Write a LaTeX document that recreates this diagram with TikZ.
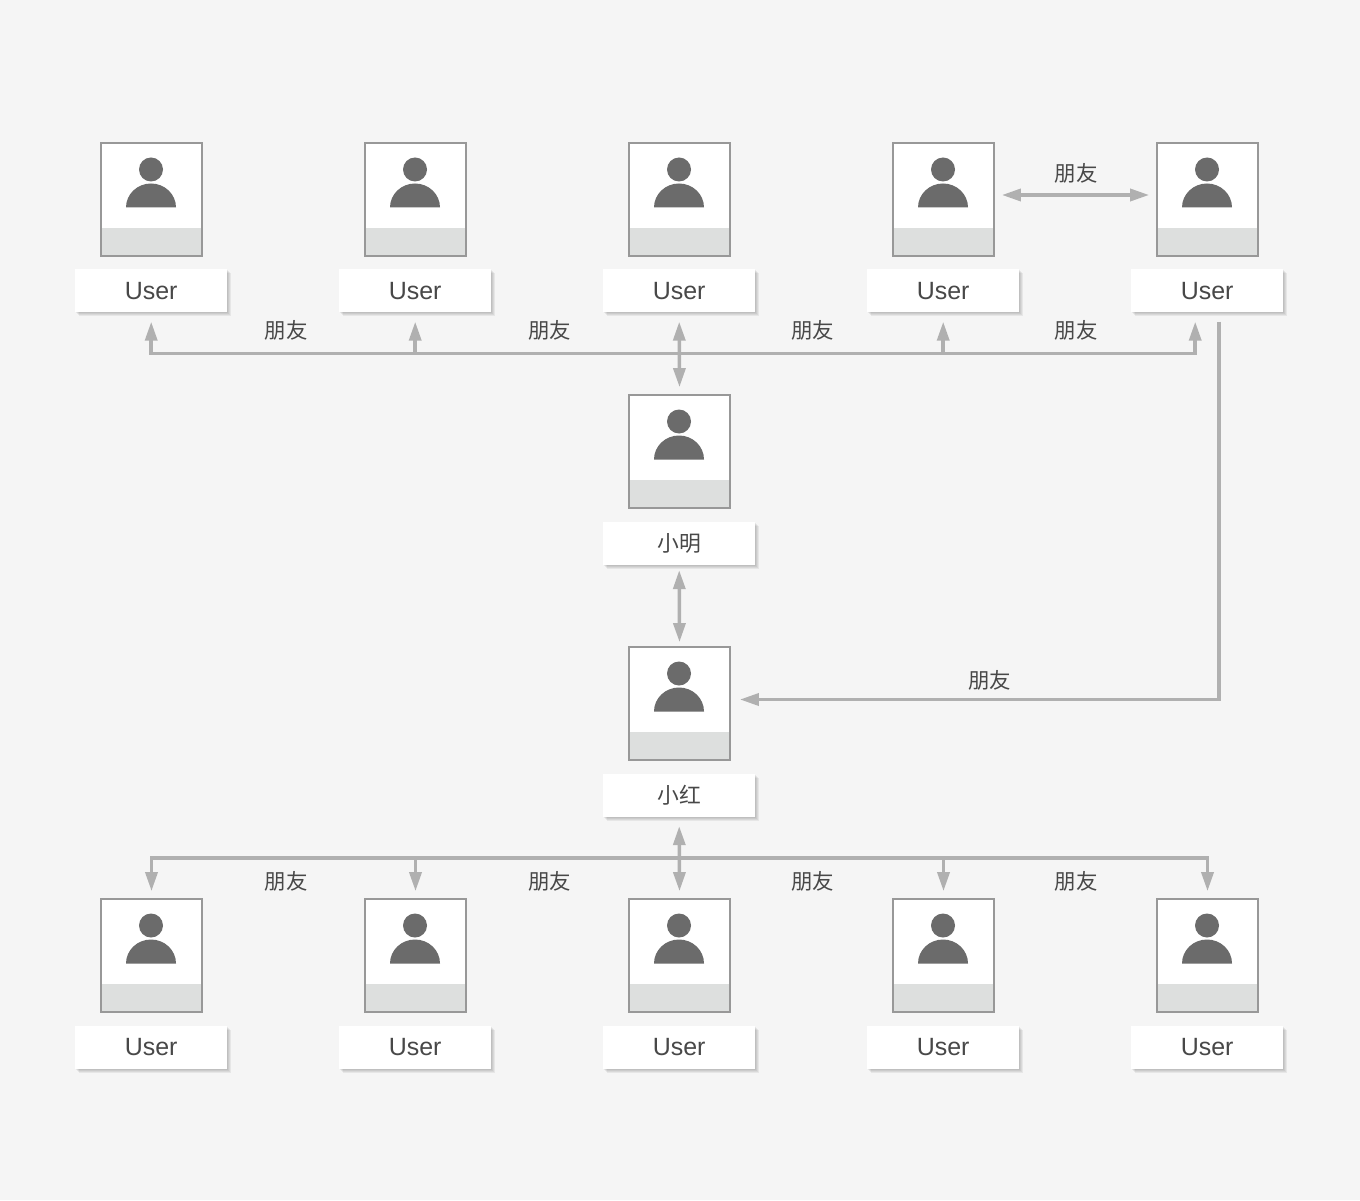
\documentclass[tikz,border=0pt]{standalone}
\usepackage{xcolor}
\usepackage{fontspec}
\usetikzlibrary{arrows.meta,shadows}
\setmainfont{Liberation Sans}
\newfontfamily\cjk{Noto Sans CJK SC}
\definecolor{BOPage}{HTML}{F5F5F5}
\definecolor{BOBand}{HTML}{DDDFDE}
\definecolor{BOFrame}{HTML}{989898}
\definecolor{BOFigure}{HTML}{6B6B6B}
\definecolor{BOLink}{HTML}{B0B0B0}
\definecolor{BOText}{HTML}{484848}
\tikzset{
  softshadow/.style={general shadow={shadow xshift=#1,shadow yshift=-#1,opacity=0.06,fill=black}},
  cardbox/.style={rectangle,draw=BOFrame,fill=white,line width=0.018cm,minimum width=1.01cm,minimum height=1.13cm,inner sep=0pt,
    path picture={\fill[BOBand] ([yshift=0.28cm]path picture bounding box.south west) rectangle (path picture bounding box.south east);}},
  namebox/.style={rectangle,fill=white,minimum width=1.525cm,minimum height=0.43cm,inner sep=0pt,text=BOText,font=\fontsize{7.1pt}{8pt}\selectfont,
    softshadow=0.04cm,softshadow=0.03cm,softshadow=0.02cm,softshadow=0.01cm},
  friendtext/.style={text=BOText,inner sep=0pt,font=\fontsize{6.1pt}{7pt}\selectfont\cjk},
  linkline/.style={draw=BOLink,line width=0.035cm},
  linkarrow/.style={linkline,-{Triangle[length=0.19cm,width=0.12cm]}},
  linkboth/.style={linkline,{Triangle[length=0.19cm,width=0.12cm]}-{Triangle[length=0.19cm,width=0.12cm]}}
}
\newcommand{\UserCard}[5]{%
  \node[cardbox] (card#1) at (#2,#3) {};
  \fill[BOFigure] (#2-0.005,#3+0.30) circle (0.12);
  \fill[BOFigure] (#2-0.255,#3-0.08) arc[start angle=180,end angle=0,x radius=0.25,y radius=0.24] -- cycle;
  \node[namebox] (name#1) at (#2-0.003,#3-0.915) {\raisebox{-0.015cm}{#4#5}};
}
\begin{document}
\begin{tikzpicture}[x=1cm,y=1cm]
\path[use as bounding box,fill=BOPage] (0,0) rectangle (13.60,12.00);
% top row
\UserCard{A}{1.515}{10.005}{}{User}
\UserCard{B}{4.155}{10.005}{}{User}
\UserCard{C}{6.795}{10.005}{}{User}
\UserCard{D}{9.435}{10.005}{}{User}
\UserCard{E}{12.075}{10.005}{}{User}
% middle
\UserCard{Ming}{6.795}{7.485}{\cjk\fontsize{6.2pt}{7pt}\selectfont}{小明}
\UserCard{Hong}{6.795}{4.965}{\cjk\fontsize{6.2pt}{7pt}\selectfont}{小红}
% bottom row
\UserCard{F}{1.515}{2.445}{}{User}
\UserCard{G}{4.155}{2.445}{}{User}
\UserCard{H}{6.795}{2.445}{}{User}
\UserCard{I}{9.435}{2.445}{}{User}
\UserCard{J}{12.075}{2.445}{}{User}
% top row links
\coordinate (topbus) at (6.79,8.465);
\coordinate (endA) at ([yshift=-0.085cm]nameA.south);
\coordinate (endB) at ([yshift=-0.085cm]nameB.south);
\coordinate (endC) at ([yshift=-0.085cm]nameC.south);
\coordinate (endD) at ([yshift=-0.085cm]nameD.south);
\coordinate (endE) at ([xshift=-0.12cm,yshift=-0.085cm]nameE.south);
\draw[linkarrow] (endA |- topbus) -- (endA);
\draw[linkarrow] (endB |- topbus) -- (endB);
\draw[linkarrow] (endD |- topbus) -- (endD);
\draw[linkarrow] (endE |- topbus) -- (endE);
\draw[linkline,line cap=rect] (endA |- topbus) -- (endE |- topbus);
\draw[linkboth] (endC) -- ([yshift=0.07cm]cardMing.north);
\draw[linkboth] ([xshift=0.07cm]cardD.east |- 0,10.05) -- ([xshift=-0.07cm]cardE.west |- 0,10.05);
\node[friendtext] (friendDE) at (10.76,10.27) {朋友};
\node[friendtext] (friendAB) at (2.86,8.70) {朋友};
\node[friendtext] (friendBC) at (5.495,8.70) {朋友};
\node[friendtext] (friendCD) at (8.125,8.70) {朋友};
\node[friendtext] (friendDE2) at (10.76,8.70) {朋友};
% middle links
\draw[linkboth] ([yshift=-0.05cm]nameMing.south) -- ([yshift=0.04cm]cardHong.north);
\coordinate (startE) at ([xshift=0.12cm,yshift=-0.085cm]nameE.south);
\coordinate (endHong) at ([xshift=0.09cm,yshift=0.04cm]cardHong.east);
\draw[linkarrow,line join=miter] (startE) -- (startE |- endHong) -- (endHong);
\node[friendtext] (friendHong) at (9.895,5.20) {朋友};
% bottom row links
\coordinate (lowbus) at (6.79,3.42);
\coordinate (endF) at ([yshift=0.07cm]cardF.north);
\coordinate (endG) at ([yshift=0.07cm]cardG.north);
\coordinate (endH) at ([yshift=0.07cm]cardH.north);
\coordinate (endI) at ([yshift=0.07cm]cardI.north);
\coordinate (endJ) at ([yshift=0.07cm]cardJ.north);
\draw[linkarrow] (endF |- lowbus) -- (endF);
\draw[linkarrow] (endG |- lowbus) -- (endG);
\draw[linkarrow] (endI |- lowbus) -- (endI);
\draw[linkarrow] (endJ |- lowbus) -- (endJ);
\draw[linkline,line cap=rect] (endF |- lowbus) -- (endJ |- lowbus);
\draw[linkboth] ([yshift=-0.09cm]nameHong.south) -- (endH);
\node[friendtext] (friendFG) at (2.86,3.19) {朋友};
\node[friendtext] (friendGH) at (5.495,3.19) {朋友};
\node[friendtext] (friendHI) at (8.125,3.19) {朋友};
\node[friendtext] (friendIJ) at (10.76,3.19) {朋友};
\end{tikzpicture}
\end{document}
